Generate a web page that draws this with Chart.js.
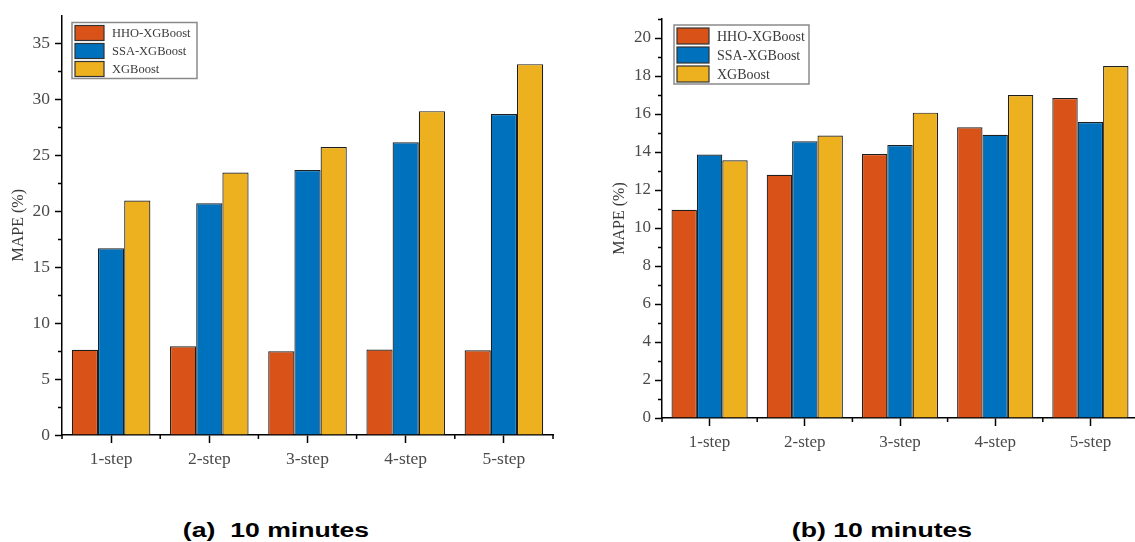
<!DOCTYPE html>
<html>
<head>
<meta charset="utf-8">
<script src="https://cdn.jsdelivr.net/npm/chart.js@4.4.1/dist/chart.umd.min.js"></script>
<style>
  html, body { margin:0; padding:0; background:#fff; width:1135px; height:542px; overflow:hidden; position:relative; }
  canvas { position:absolute; top:0; }
  .cap { position:absolute; width:400px; text-align:center; white-space:pre; font-family:"Liberation Sans", Arial, sans-serif; font-weight:bold; font-size:20px; color:#000; transform:scaleX(1.33); transform-origin:center; line-height:24px; }
</style>
</head>
<body>
<canvas id="cA" width="560" height="470" style="left:0;width:560px;height:470px"></canvas>
<canvas id="cB" width="580" height="470" style="left:560px;width:580px;height:470px"></canvas>
<div class="cap" style="left:76px;top:518px">(a)  10 minutes</div>
<div class="cap" style="left:682px;top:518px">(b) 10 minutes</div>
<script>
const categories = ['1-step', '2-step', '3-step', '4-step', '5-step'];
const seriesNames = ['HHO-XGBoost', 'SSA-XGBoost', 'XGBoost'];
const hhoA = [7.61, 7.93, 7.49, 7.64, 7.58];
const ssaA = [16.70, 20.72, 23.68, 26.17, 28.69];
const xgbA = [20.96, 23.47, 25.75, 28.95, 33.15];
const hhoB = [10.96, 12.80, 13.89, 15.30, 16.84];
const ssaB = [13.87, 14.56, 14.37, 14.91, 15.58];
const xgbB = [13.56, 14.87, 16.07, 17.00, 18.53];
const yTicksA = [0, 5, 10, 15, 20, 25, 30, 35];
const yMinorA = [2.5, 7.5, 12.5, 17.5, 22.5, 27.5, 32.5];
const yTicksB = [0, 2, 4, 6, 8, 10, 12, 14, 16, 18, 20];
const yMinorB = [1, 3, 5, 7, 9, 11, 13, 15, 17, 19, 21];
const yTitle = 'MAPE (%)';

const colors = ['rgb(217,83,25)', 'rgb(0,114,189)', 'rgb(237,177,32)'];
const serif = '"Liberation Serif", "Times New Roman", serif';

function decorPlugin(minor, leg) {
  return {
    id: 'decor',
    afterDraw(chart) {
      const ctx = chart.ctx;
      const x = chart.scales.x, y = chart.scales.y;
      const ca = chart.chartArea;
      ctx.save();
      ctx.strokeStyle = '#000';
      ctx.lineWidth = 1.5;
      ctx.beginPath();
      minor.forEach(v => {
        const py = Math.round(y.getPixelForValue(v)) + 0.5;
        ctx.moveTo(ca.left, py); ctx.lineTo(ca.left - 4, py);
      });
      const n = chart.data.labels.length;
      for (let i = 0; i <= n; i++) {
        const px = i === n ? ca.right : (x.getPixelForTick(i) - (x.getPixelForTick(1) - x.getPixelForTick(0)) / 2);
        ctx.moveTo(px, ca.bottom); ctx.lineTo(px, ca.bottom + 4);
      }
      ctx.stroke();
      // legend
      const bx = ca.left + leg.dx, by = ca.top + leg.dy;
      ctx.fillStyle = '#fff';
      ctx.fillRect(bx, by, leg.w, leg.h);
      ctx.strokeStyle = '#8a8a8a';
      ctx.lineWidth = 1.5;
      ctx.strokeRect(bx, by, leg.w, leg.h);
      ctx.font = leg.font + 'px ' + serif;
      ctx.textBaseline = 'middle';
      ctx.textAlign = 'left';
      chart.data.datasets.forEach((ds, i) => {
        const sy = by + leg.pad + i * leg.pitch;
        ctx.fillStyle = ds.backgroundColor;
        ctx.fillRect(bx + 3, sy, leg.sw, leg.sh);
        ctx.strokeStyle = '#333';
        ctx.lineWidth = 1.2;
        ctx.strokeRect(bx + 3, sy, leg.sw, leg.sh);
        ctx.fillStyle = '#3a3a3a';
        ctx.fillText(ds.label, bx + leg.tx, sy + leg.sh / 2 + 1);
      });
      ctx.restore();
    }
  };
}

function makeChart(id, data, yMax, yTicks, yMinor, cfg) {
  return new Chart(document.getElementById(id), {
    type: 'bar',
    data: {
      labels: categories,
      datasets: data.map((d, i) => ({
        label: seriesNames[i],
        data: d,
        backgroundColor: colors[i],
        borderColor: '#1e1e1e',
        borderWidth: 1.2,
        categoryPercentage: 0.8,
        barPercentage: 1.0
      }))
    },
    options: {
      responsive: false,
      devicePixelRatio: 1,
      animation: false,
      layout: { padding: cfg.padding },
      plugins: { legend: { display: false }, tooltip: { enabled: false } },
      scales: {
        x: {
          offset: true,
          grid: { offset: false, drawOnChartArea: false, tickLength: 8, tickColor: '#000', tickWidth: 1.5 },
          border: { color: '#000', width: 1.5 },
          ticks: { color: '#4a4a4a', font: { family: serif, size: cfg.xFont }, padding: cfg.xPad, maxRotation: 0 },
          afterFit(s) { s.height = cfg.xH; }
        },
        y: {
          min: 0, max: yMax,
          afterBuildTicks(s) { s.ticks = yTicks.map(v => ({ value: v })); },
          grid: { drawOnChartArea: false, tickLength: 7, tickColor: '#000', tickWidth: 1.5 },
          border: { color: '#000', width: 1.5 },
          ticks: { color: '#4a4a4a', font: { family: serif, size: cfg.yFont }, padding: cfg.yPad },
          title: { display: true, text: yTitle, color: '#3a3a3a', font: { family: serif, size: 16 }, padding: { top: cfg.titlePad, bottom: 0 } },
          afterFit(s) { s.width = cfg.yW; }
        }
      }
    },
    plugins: [decorPlugin(yMinor, cfg.leg)]
  });
}

makeChart('cA', [hhoA, ssaA, xgbA], 37.5, yTicksA, yMinorA, {
  padding: { left: 0, top: 13, right: 7, bottom: 0 },
  xH: 35, yW: 62, xFont: 17.5, yFont: 17.5, xPad: 6, yPad: 5, titlePad: 9,
  leg: { dx: 10, dy: 7, w: 125, h: 56, pad: 3, pitch: 18, sw: 29, sh: 15, tx: 40, font: 12.5 }
});
makeChart('cB', [hhoB, ssaB, xgbB], 21, yTicksB, yMinorB, {
  padding: { left: 0, top: 19, right: 2, bottom: 0 },
  xH: 52, yW: 102, xFont: 17, yFont: 17, xPad: 6, yPad: 4, titlePad: 50,
  leg: { dx: 12, dy: 6, w: 135, h: 59, pad: 3, pitch: 19, sw: 32, sh: 16, tx: 43, font: 14 }
});
</script>
</body>
</html>
